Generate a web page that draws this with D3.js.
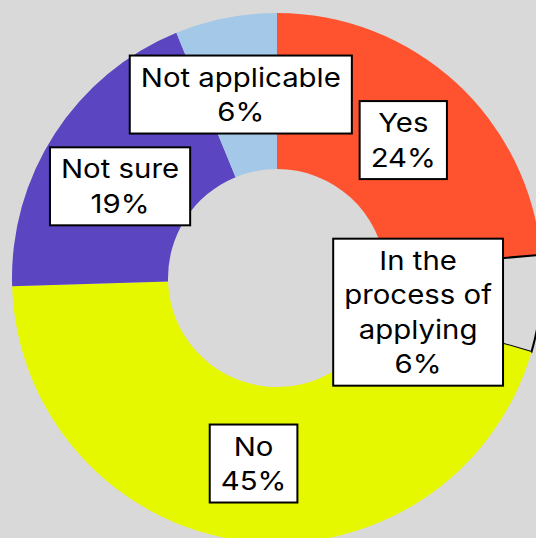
<!DOCTYPE html>
<html>
<head>
<meta charset="utf-8">
<script src="https://cdn.jsdelivr.net/npm/d3@7"></script>
<style>
  html, body { margin: 0; padding: 0; background: #d9d9d9; }
  svg { display: block; }
  text { font-family: Inter, "Noto Sans", sans-serif; }
</style>
</head>
<body>
<svg id="chart"></svg>
<script>
// data (clockwise from 12 o'clock)
const categories = ["Yes", "In the\nprocess of\napplying", "No", "Not sure", "Not applicable"];
const values = [23.6, 5.9, 45.0, 19.3, 6.2];
const colors = ["#ff5330", "#d9d9d9", "#e6f800", "#5b45c0", "#a4c8e8"];

const size = { w: 536, h: 538 };
const center = { x: 277, y: 278 };
const outerR = 265, innerR = 109;

// label nudges where the box would fall off the page
const nudge = { 1: [-45, 16], 3: [0, 10] };

const svg = d3.select('#chart')
    .attr('width', size.w)
    .attr('height', size.h);

svg.append('rect')
    .attr('width', size.w)
    .attr('height', size.h)
    .attr('fill', '#d9d9d9');

const containerG = svg.append('g')
    .attr('transform', `translate(${center.x}, ${center.y})`);

const total = d3.sum(values);
const rows = categories.map((c, i) => ({ name: c, value: values[i], color: colors[i], i }));

const pie = d3.pie()
    .value(d => d.value)
    .sort(null);

const arc = d3.arc()
    .innerRadius(innerR)
    .outerRadius(outerR);

const arcs = pie(rows);

containerG.selectAll('path.slice')
    .data(arcs)
    .join('path')
    .classed('slice', true)
    .attr('d', arc)
    .attr('fill', d => d.data.color)
    .attr('stroke', d => d.data.i === 1 ? '#000' : 'none')
    .attr('stroke-width', 2);

// labels - the original face is wider than Inter, so stretch a bit
const fontSize = 26, lineH = 34.5, padX = 11, padY = 4.5, stretch = 1.13;

const labelG = containerG.selectAll('g.label')
    .data(arcs)
    .join('g')
    .classed('label', true);

labelG.each(function(d) {
    const g = d3.select(this);
    const lines = d.data.name.split('\n');
    lines.push(Math.round(d.data.value / total * 100) + '%');

    const [cx0, cy0] = arc.centroid(d);
    const [nx, ny] = nudge[d.data.i] || [0, 0];
    const cx = cx0 + nx, cy = cy0 + ny;

    const rect = g.append('rect')
        .attr('fill', '#fff')
        .attr('stroke', '#000')
        .attr('stroke-width', 2);

    const text = g.append('text')
        .attr('transform', `translate(${cx}, 0) scale(${stretch}, 1)`)
        .attr('text-anchor', 'middle')
        .attr('font-size', fontSize)
        .attr('fill', '#000');

    const h = lines.length * lineH;
    text.selectAll('tspan')
        .data(lines)
        .join('tspan')
        .attr('x', 0)
        .attr('y', (l, k) => cy - h / 2 + k * lineH + lineH / 2)
        .attr('dy', '0.36em')
        .text(l => l);

    const w = stretch * d3.max(text.selectAll('tspan').nodes(), n => n.getComputedTextLength());
    rect.attr('x', cx - w / 2 - padX)
        .attr('y', cy - h / 2 - padY)
        .attr('width', w + 2 * padX)
        .attr('height', h + 2 * padY);
});
</script>
</body>
</html>
